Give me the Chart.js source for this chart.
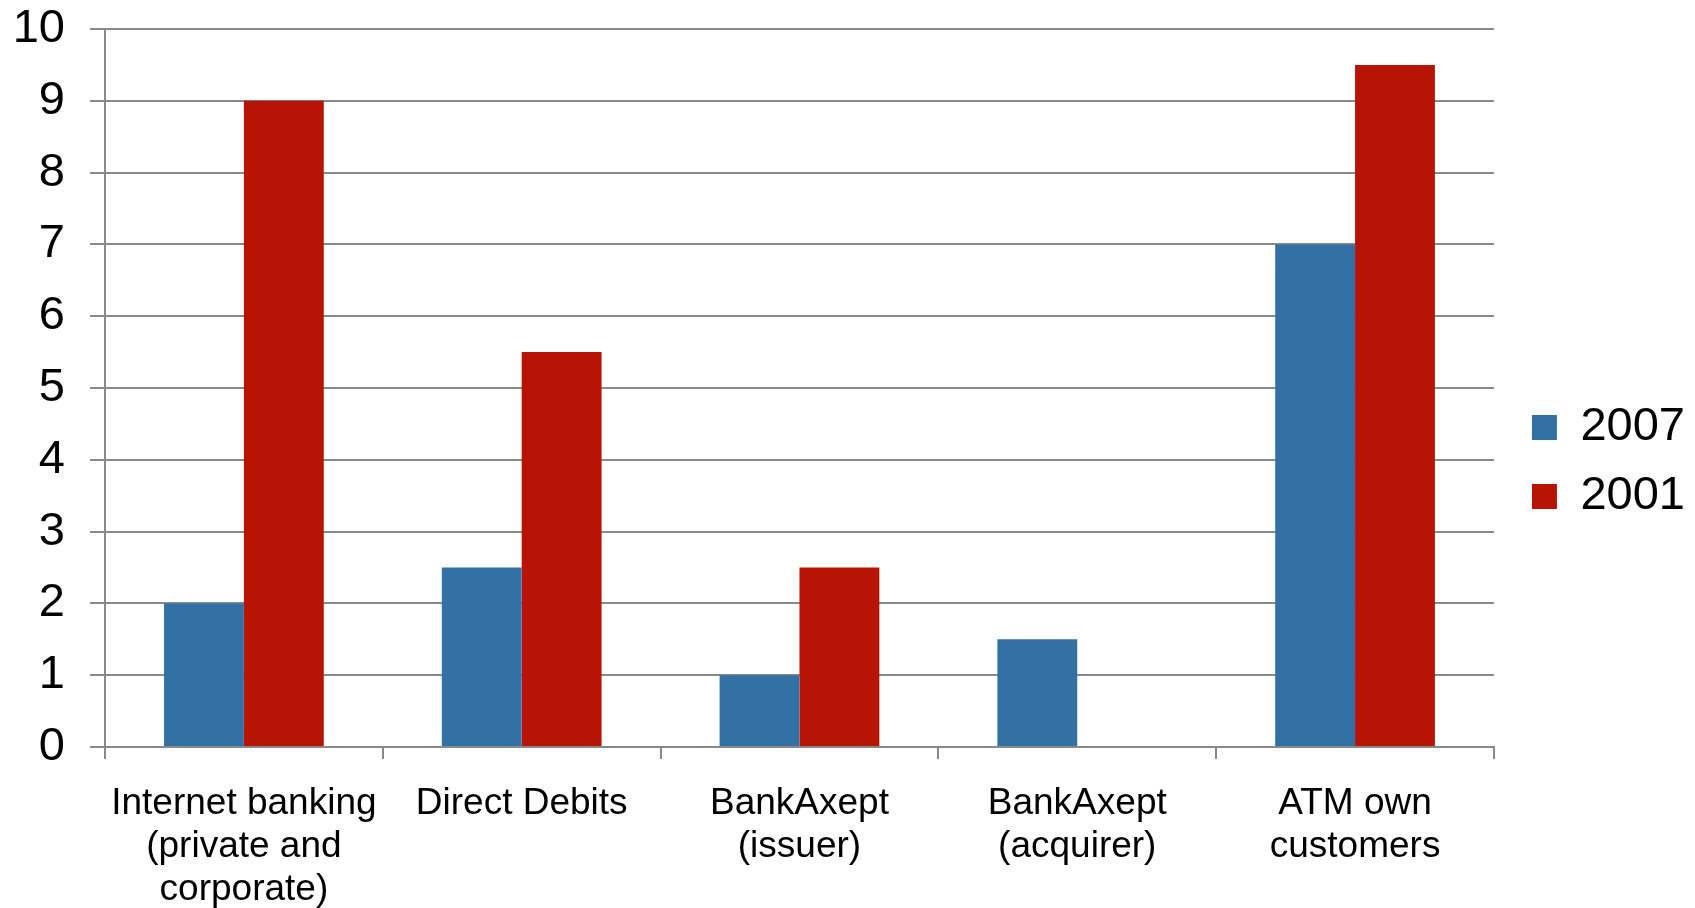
<!DOCTYPE html>
<html>
<head>
<meta charset="utf-8">
<script src="https://cdn.jsdelivr.net/npm/chart.js@4"></script>
<style>
    html, body { margin:0; padding:0; background:#fff; }
    #bank_chart { display:block; }
</style>
</head>
<body>
<canvas id="bank_chart" width="1695" height="908"></canvas>
<script>
let categories = [
    ['Internet banking', '(private and', 'corporate)'],
    'Direct Debits',
    ['BankAxept', '(issuer)'],
    ['BankAxept', '(acquirer)'],
    ['ATM own', 'customers']
];
let values2007 = [2, 2.5, 1, 1.5, 7];
let values2001 = [9, 5.5, 2.5, null, 9.5];
let yTicks = [0, 1, 2, 3, 4, 5, 6, 7, 8, 9, 10];

let gridColor = '#898989';
let fontFamily = '"Liberation Sans", Arial, sans-serif';

let ctx = document.getElementById('bank_chart');
let bankChart = new Chart(ctx, {
    type:'bar',
    data:{
        labels:categories,
        datasets:[
            {
                label:'2007',
                data:values2007,
                backgroundColor:'#3371a5'
            },
            {
                label:'2001',
                data:values2001,
                backgroundColor:'#b81405'
            }
        ]
    },
    options:{
        responsive:false,
        animation:false,
        layout:{
            // top padding only moves the legend, the plot top comes from the y axis
            padding:{top:16, left:0, right:0, bottom:0}
        },
        datasets:{
            bar:{
                categoryPercentage:0.575,
                barPercentage:1.0
            }
        },
        plugins:{
            tooltip:{enabled:false},
            legend:{
                position:'right',
                labels:{
                    boxWidth:25,
                    boxHeight:25,
                    padding:22,
                    color:'#000',
                    font:{family:fontFamily, size:47}
                }
            }
        },
        scales:{
            x:{
                afterFit:function(scale) {
                    scale.height = 161;
                    scale.paddingLeft = 0;
                    scale.paddingRight = 0;
                },
                grid:{
                    offset:true,
                    drawOnChartArea:false,
                    drawTicks:true,
                    tickLength:12,
                    color:gridColor,
                    lineWidth:2
                },
                border:{color:gridColor, width:2},
                ticks:{
                    color:'#000',
                    padding:23,
                    maxRotation:0,
                    autoSkip:false,
                    font:{family:fontFamily, size:37, lineHeight:1.16}
                }
            },
            y:{
                min:0,
                max:10,
                afterBuildTicks:function(axis) {
                    axis.ticks = yTicks.map(function(v) { return {value:v}; });
                },
                afterFit:function(scale) {
                    scale.width = 105;
                    scale.paddingTop = 29;
                    scale.paddingBottom = 0;
                },
                grid:{
                    color:gridColor,
                    lineWidth:2,
                    tickLength:15
                },
                border:{color:gridColor, width:2},
                ticks:{
                    color:'#000',
                    padding:25,
                    font:{family:fontFamily, size:47}
                }
            },
            // empty axis, only keeps a gap between the plot and the legend
            gap:{
                position:'right',
                grid:{display:false},
                border:{display:false},
                ticks:{display:false},
                afterFit:function(scale) {
                    scale.width = 16;
                }
            }
        }
    }
});
</script>
</body>
</html>
